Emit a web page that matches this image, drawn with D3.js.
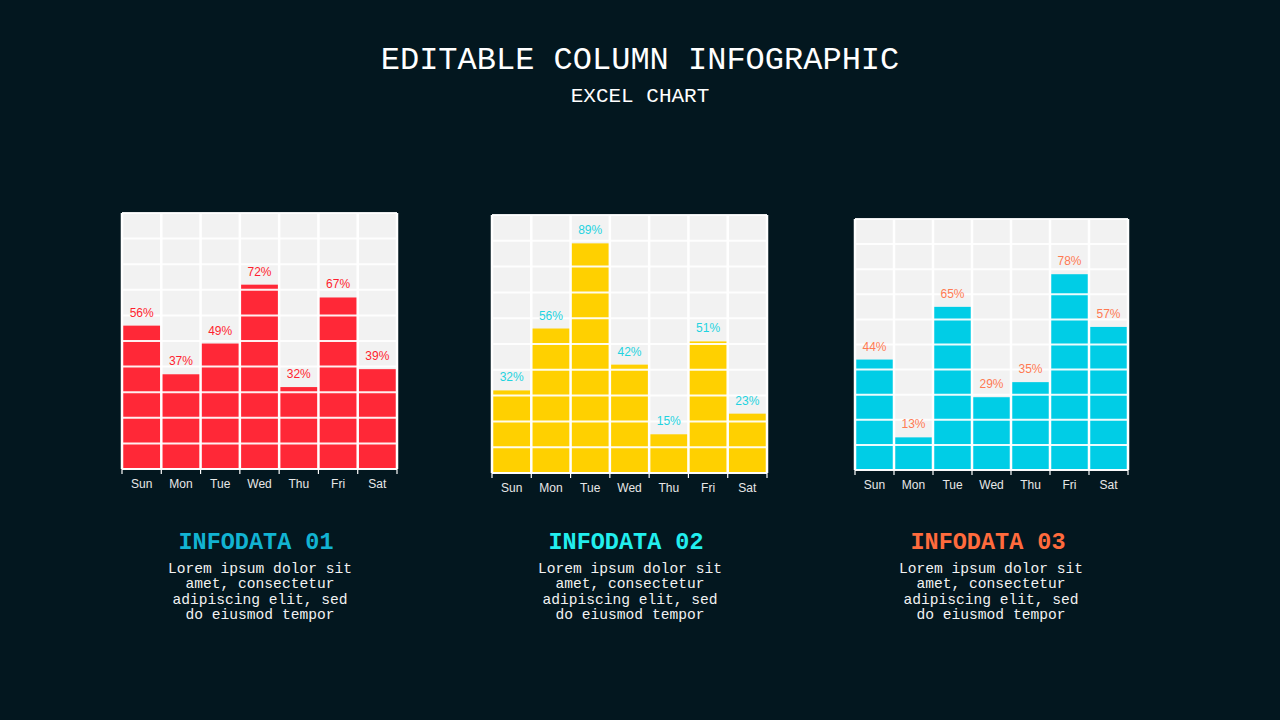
<!DOCTYPE html>
<meta charset="utf-8">
<style>
body { margin: 0; background: #03171f; }
svg { display: block; }
.mono { font-family: "Liberation Mono", "DejaVu Sans Mono", monospace; }
.axis text { font-family: "Liberation Sans", Arial, sans-serif; font-size: 12px; fill: #e8e8e8; }
</style>
<svg width="1280" height="720"></svg>
<script src="https://cdn.jsdelivr.net/npm/d3@7"></script>
<script>

var days = ["Sun", "Mon", "Tue", "Wed", "Thu", "Fri", "Sat"];
var values01 = [56, 37, 49, 72, 32, 67, 39];
var values02 = [32, 56, 89, 42, 15, 51, 23];
var values03 = [44, 13, 65, 29, 35, 78, 57];
var titles = ["INFODATA 01", "INFODATA 02", "INFODATA 03"];
var loremLines = ["Lorem ipsum dolor sit", "amet, consectetur", "adipiscing elit, sed", "do eiusmod tempor"];

var svg = d3.select("svg");

svg.append("rect").attr("width", 1280).attr("height", 720).attr("fill", "#03171f");

svg.append("text").attr("class", "mono")
    .attr("x", 640).attr("y", 69)
    .attr("text-anchor", "middle")
    .attr("font-size", 32).attr("fill", "#ffffff")
    .text("EDITABLE COLUMN INFOGRAPHIC");

svg.append("text").attr("class", "mono")
    .attr("x", 640).attr("y", 102)
    .attr("text-anchor", "middle")
    .attr("font-size", 21).attr("fill", "#ffffff")
    .text("EXCEL CHART");

// one panel per series
var panels = [
    {values: values01, left: 122, right: 397, top: 213, bottom: 469, bar: "#ff2837", label: "#ff1f2f", head: "#12b3d2", headX: 256, textX: 260},
    {values: values02, left: 492, right: 767, top: 215, bottom: 473, bar: "#ffd000", label: "#1fd3e0", head: "#22eeee", headX: 626, textX: 630},
    {values: values03, left: 855, right: 1128, top: 219, bottom: 470, bar: "#00cde6", label: "#ff7a52", head: "#ff6b3d", headX: 988, textX: 991}
];

panels.forEach(function(p, k) {
    var x = d3.scaleBand()
        .domain(days)
        .range([p.left, p.right])
        .padding(0);

    var y = d3.scaleLinear()
        .domain([0, 100])
        .range([p.bottom, p.top]);

    var g = svg.append("g");

    g.append("rect")
        .attr("x", p.left).attr("y", p.top)
        .attr("width", p.right - p.left)
        .attr("height", p.bottom - p.top)
        .attr("fill", "#f2f2f2");

    g.selectAll(".bar")
        .data(p.values)
        .enter().append("rect")
        .attr("class", "bar")
        .attr("x", function(d, i) { return x(days[i]); })
        .attr("y", function(d) { return y(d); })
        .attr("width", x.bandwidth())
        .attr("height", function(d) { return y(0) - y(d); })
        .attr("fill", p.bar);

    // horizontal grid drawn over the bars
    g.selectAll(".hgrid")
        .data(y.ticks(10))
        .enter().append("line")
        .attr("x1", p.left).attr("x2", p.right)
        .attr("y1", function(d) { return y(d); })
        .attr("y2", function(d) { return y(d); })
        .attr("stroke", "#ffffff")
        .attr("stroke-opacity", 0.92)
        .attr("stroke-width", 2);

    var edges = days.map(function(d) { return x(d); }).concat([p.right]);

    g.selectAll(".vgrid")
        .data(edges)
        .enter().append("line")
        .attr("x1", function(d) { return d; })
        .attr("x2", function(d) { return d; })
        .attr("y1", p.top).attr("y2", p.bottom)
        .attr("stroke", "#ffffff")
        .attr("stroke-width", 2.5);

    // axis line and tick marks at band edges
    g.append("line")
        .attr("x1", p.left).attr("x2", p.right)
        .attr("y1", p.bottom).attr("y2", p.bottom)
        .attr("stroke", "#ffffff").attr("stroke-width", 1.5);

    g.selectAll(".tick-mark")
        .data(edges)
        .enter().append("line")
        .attr("x1", function(d) { return d; })
        .attr("x2", function(d) { return d; })
        .attr("y1", p.bottom).attr("y2", p.bottom + 5)
        .attr("stroke", "#ffffff").attr("stroke-width", 1.2);

    g.append("g")
        .attr("class", "axis")
        .attr("transform", "translate(0," + p.bottom + ")")
        .call(d3.axisBottom(x).tickSize(0).tickPadding(10))
        .call(function(a) { a.select(".domain").remove(); });

    g.selectAll(".val")
        .data(p.values)
        .enter().append("text")
        .attr("x", function(d, i) { return x(days[i]) + x.bandwidth() / 2; })
        .attr("y", function(d) { return y(d) - 9; })
        .attr("text-anchor", "middle")
        .attr("font-family", "'Liberation Sans', Arial, sans-serif")
        .attr("font-size", 12)
        .attr("fill", p.label)
        .text(function(d) { return d + "%"; });

    svg.append("text").attr("class", "mono")
        .attr("x", p.headX).attr("y", 549)
        .attr("text-anchor", "middle")
        .attr("font-size", 23.5)
        .attr("font-weight", "bold")
        .attr("fill", p.head)
        .text(titles[k]);

    svg.append("g").selectAll("text")
        .data(loremLines)
        .enter().append("text")
        .attr("class", "mono")
        .attr("x", p.textX)
        .attr("y", function(d, i) { return 573 + i * 15.4; })
        .attr("text-anchor", "middle")
        .attr("font-size", 14.6)
        .attr("fill", "#f2f2f2")
        .text(function(d) { return d; });
});

</script>
